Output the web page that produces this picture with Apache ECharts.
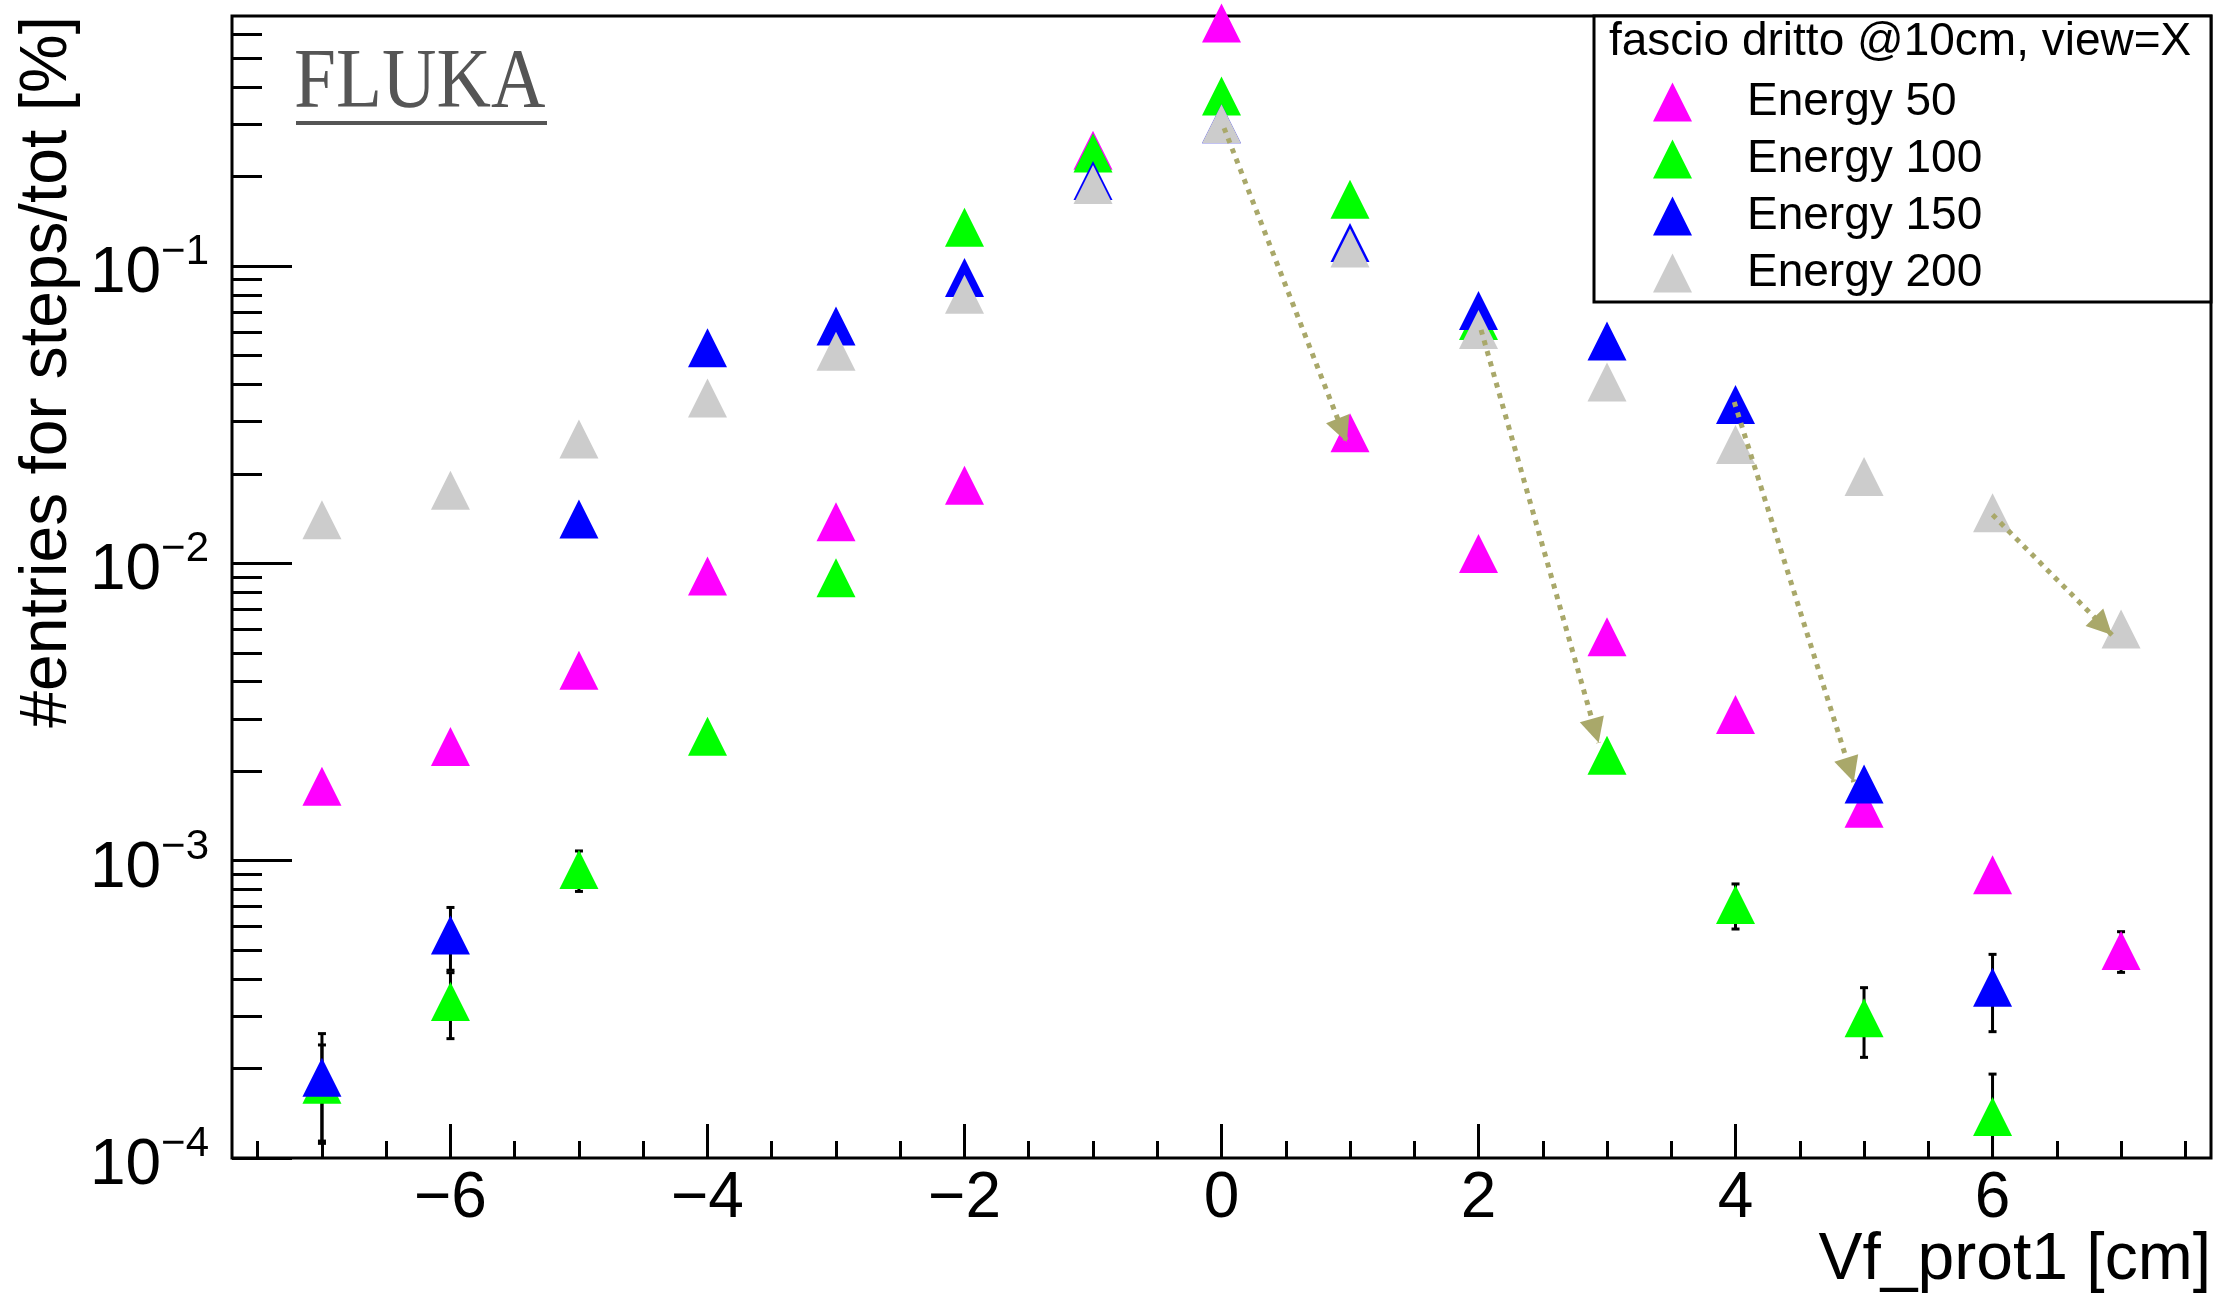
<!DOCTYPE html>
<html>
<head>
<meta charset="utf-8">
<script src="https://cdn.jsdelivr.net/npm/echarts@6/dist/echarts.min.js"></script>
<style>
  html, body { margin: 0; padding: 0; background: #fff; }
  #chart { width: 2229px; height: 1297px; }
</style>
</head>
<body>
<div id="chart"></div>
<script>
// Vertex position along the prot1 view [cm]
const positions = [-7, -6, -5, -4, -3, -2, -1, 0, 1, 2, 3, 4, 5, 6, 7];

// #entries for steps / tot [%], one array per beam energy
const energy50  = [0.00178, 0.00242, 0.00437, 0.00907, 0.0138, 0.0183, 0.245, 0.656, 0.0275, 0.0108, 0.00566, 0.0031, 0.0015, 0.000897, 0.000499];
const energy100 = [0.000177, 0.000336, 0.000933, 0.00262, 0.00895, 0.135, 0.240, 0.373, 0.1675, 0.0656, 0.00226, 0.000712, 0.000296, 0.000138, null];
const energy150 = [0.000187, 0.000562, 0.0141, 0.0531, 0.0628, 0.0914, 0.194, 0.301, 0.120, 0.0709, 0.0559, 0.0342, 0.00181, 0.000375, null];
const energy200 = [0.0140, 0.0176, 0.0262, 0.0360, 0.0517, 0.0804, 0.188, 0.3006, 0.115, 0.0611, 0.0407, 0.0251, 0.0196, 0.0148, 0.00601];

// statistical errors (only where they stick out of the markers)
const err50  = [null, null, null, null, null, null, null, null, null, null, null, null, null, null, 0.000078];
const err100 = [0.000063, 0.000084, 0.000145, null, null, null, null, null, null, null, null, 0.000123, 0.000078, 0.0000535, null];
const err150 = [0.000075, 0.000134, null, null, null, null, null, null, null, null, null, null, null, 0.000109, null];
const err200 = [null, null, null, null, null, null, null, null, null, null, null, null, null, null, null];

// peak shift arrows: [x, y] start and end
const arrowFrom = [[0.02, 0.291], [2.02, 0.061], [3.99, 0.0349], [6.0, 0.01456]];
const arrowTo   = [[0.975, 0.0256], [2.935, 0.00249], [4.92, 0.00184], [6.93, 0.00574]];

// axis ticks
const xMajorTicks = [-6, -4, -2, 0, 2, 4, 6];
const xMinorTicks = [-7.5, -7, -6.5, -6, -5.5, -5, -4.5, -4, -3.5, -3, -2.5, -2, -1.5, -1, -0.5, 0,
                     0.5, 1, 1.5, 2, 2.5, 3, 3.5, 4, 4.5, 5, 5.5, 6, 6.5, 7, 7.5];
const yDecades = [-4, -3, -2, -1];

const seriesNames = ['Energy 50', 'Energy 100', 'Energy 150', 'Energy 200'];
const seriesColors = ['#ff00ff', '#00ff00', '#0000ff', '#cccccc'];
const arrowColor = '#a9a86a';

const X_MIN = -7.7, X_MAX = 7.7;
const Y_MIN = 1e-4, Y_MAX = 0.693;
const FONT = '"Liberation Sans", Arial, Helvetica, sans-serif';

const yMinorTicks = [];
yDecades.forEach(d => {
  for (let k = 2; k <= 9; k++) {
    const v = Math.log10(k) + d;
    if (v <= Math.log10(Y_MAX)) yMinorTicks.push(v);
  }
});

function points(vals) {
  return positions.map((x, i) => vals[i] == null ? null : [x, vals[i]]).filter(Boolean);
}
function errPoints(vals, errs) {
  return positions.map((x, i) => (vals[i] == null || errs[i] == null) ? null : [x, vals[i], errs[i]]).filter(Boolean);
}

function renderErr(params, api) {
  const x = api.value(0), y = api.value(1), e = api.value(2);
  const hiV = Math.min(y + e, Y_MAX), loV = Math.max(y - e, Y_MIN);
  const pHi = api.coord([x, hiV]);
  const pLo = api.coord([x, loV]);
  const st = { stroke: '#000', lineWidth: 3 };
  const children = [{ type: 'line', shape: { x1: pHi[0], y1: pHi[1], x2: pLo[0], y2: pLo[1] }, style: st }];
  if (y + e <= Y_MAX) children.push({ type: 'line', shape: { x1: pHi[0] - 4, y1: pHi[1], x2: pHi[0] + 4, y2: pHi[1] }, style: st });
  if (y - e >= Y_MIN) children.push({ type: 'line', shape: { x1: pLo[0] - 4, y1: pLo[1], x2: pLo[0] + 4, y2: pLo[1] }, style: st });
  return { type: 'group', children };
}

const valueSets = [energy50, energy100, energy150, energy200];
const errSets = [err50, err100, err150, err200];

const series = [];
valueSets.forEach((vals, i) => {
  series.push({
    name: seriesNames[i] + ' errors',
    type: 'custom',
    xAxisIndex: 0, yAxisIndex: 0,
    renderItem: renderErr,
    data: errPoints(vals, errSets[i]),
    clip: false,
    silent: true
  });
  series.push({
    name: seriesNames[i],
    type: 'scatter',
    xAxisIndex: 0, yAxisIndex: 0,
    symbol: 'triangle',
    symbolSize: [39, 39],
    itemStyle: { color: seriesColors[i], opacity: 1 },
    data: points(vals),
    clip: false,
    silent: true,
    emphasis: { disabled: true }
  });
});

series.push({
  name: 'shift',
  type: 'line',
  xAxisIndex: 0, yAxisIndex: 0,
  data: [],
  silent: true,
  markLine: {
    silent: true,
    animation: false,
    symbol: ['none', 'triangle'],
    symbolSize: 26,
    label: { show: false },
    lineStyle: { color: arrowColor, width: 5, type: [5, 6], opacity: 1 },
    itemStyle: { color: arrowColor },
    emphasis: { disabled: true },
    data: arrowFrom.map((p, i) => [
      { coord: p, symbol: 'none' },
      { coord: arrowTo[i], symbol: 'triangle', symbolSize: [25, 25], symbolOffset: [0, 12.5] }
    ])
  }
});

const tickStyle = { color: '#000', width: 3 };

const option = {
  animation: false,
  backgroundColor: '#fff',
  grid: {
    left: 232, right: 18, top: 16, bottom: 139,
    containLabel: false,
    outerBoundsMode: 'none',
    show: true, borderColor: '#000', borderWidth: 3, backgroundColor: 'transparent'
  },
  xAxis: [
    {
      type: 'value', position: 'bottom', min: X_MIN, max: X_MAX,
      axisLine: { show: false, onZero: false },
      splitLine: { show: false },
      axisTick: { show: true, inside: true, length: 34, lineStyle: tickStyle, customValues: xMajorTicks },
      axisLabel: {
        show: true, customValues: xMajorTicks, margin: 9,
        fontSize: 64, fontFamily: FONT, color: '#000',
        formatter: v => v < 0 ? '\u2212' + Math.abs(v) : String(v)
      },
      name: 'Vf_prot1 [cm]',
      nameLocation: 'end',
      nameGap: 0,
      nameMoveOverlap: false,
      nameTextStyle: { fontSize: 66, fontFamily: FONT, color: '#000', align: 'right', verticalAlign: 'top', padding: [70, 0, 0, 0] }
    },
    {
      type: 'value', position: 'bottom', min: X_MIN, max: X_MAX,
      axisLine: { show: false, onZero: false },
      splitLine: { show: false },
      axisTick: { show: true, inside: true, length: 17, lineStyle: tickStyle, customValues: xMinorTicks },
      axisLabel: { show: false }
    }
  ],
  yAxis: [
    {
      type: 'log', logBase: 10, position: 'left', min: Y_MIN, max: Y_MAX, show: false,
      axisLine: { onZero: false }
    },
    {
      type: 'value', position: 'left', min: Math.log10(Y_MIN), max: Math.log10(Y_MAX),
      axisLine: { show: false, onZero: false },
      splitLine: { show: false },
      axisTick: { show: true, inside: true, length: 60, lineStyle: tickStyle, customValues: yDecades },
      axisLabel: {
        show: true, customValues: yDecades, margin: 23,
        formatter: v => '{b|10}{s|\u2212' + Math.abs(v) + '}',
        padding: [17, 0, 0, 0],
        rich: {
          b: { fontSize: 64, fontFamily: FONT, color: '#000', lineHeight: 86 },
          s: { fontSize: 42, fontFamily: FONT, color: '#000', lineHeight: 42, verticalAlign: 'top' }
        }
      },
      name: '#entries for steps/tot [%]',
      nameLocation: 'end',
      nameGap: 0,
      nameRotate: 90,
      nameMoveOverlap: false,
      nameTextStyle: { fontSize: 66, fontFamily: FONT, color: '#000', align: 'right', verticalAlign: 'bottom', padding: [0, 0, 151, 0] }
    },
    {
      type: 'value', position: 'left', min: Math.log10(Y_MIN), max: Math.log10(Y_MAX),
      axisLine: { show: false, onZero: false },
      splitLine: { show: false },
      axisTick: { show: true, inside: true, length: 30, lineStyle: tickStyle, customValues: yMinorTicks },
      axisLabel: { show: false }
    }
  ],
  legend: {
    data: seriesNames,
    orient: 'vertical',
    left: 1653, top: 79,
    padding: 0,
    itemWidth: 39, itemHeight: 39,
    itemGap: 11,
    z: 10,
    selectedMode: false,
    textStyle: { fontSize: 46, fontFamily: FONT, color: '#000', padding: [0, 0, 0, 50] }
  },
  graphic: [
    {
      type: 'rect', z: 3,
      shape: { x: 1594, y: 16, width: 617, height: 286 },
      style: { fill: '#fff', stroke: '#000', lineWidth: 3 }
    },
    {
      type: 'text', z: 11, x: 1609, y: 42,
      style: { text: 'fascio dritto @10cm, view=X', fontSize: 46, fontFamily: FONT, fill: '#000', verticalAlign: 'middle', align: 'left' }
    },
    {
      type: 'text', z: 11, x: 294, y: 85, scaleX: 0.887,
      style: { text: 'FLUKA', fontSize: 85, fontFamily: '"Liberation Serif", "Times New Roman", serif', fill: '#555555', verticalAlign: 'middle', align: 'left' }
    },
    {
      type: 'rect', z: 11,
      shape: { x: 296, y: 121, width: 251, height: 4 },
      style: { fill: '#555555' }
    }
  ],
  series
};

const chart = echarts.init(document.getElementById('chart'), null, { renderer: 'canvas' });
chart.setOption(option);
</script>
</body>
</html>
